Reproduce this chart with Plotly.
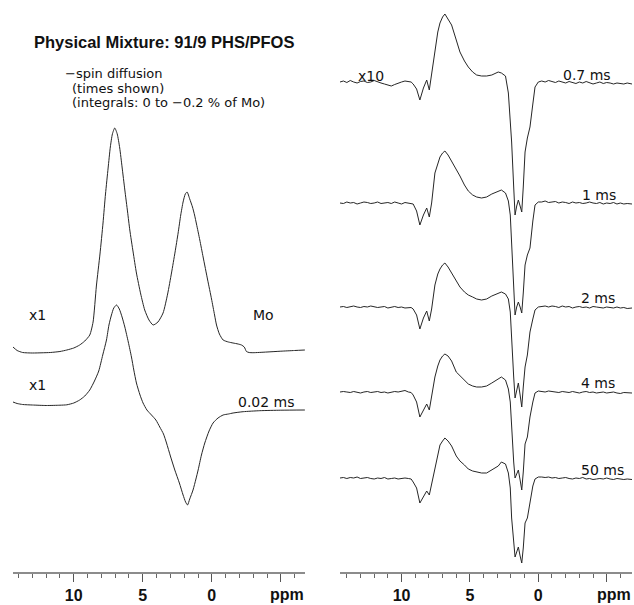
import plotly.graph_objects as go

# ---------------- Left panel data (ppm, intensity relative to trace baseline) ----------------
mo_ppm = [14.4, 14.1, 13.7, 13.0, 12.3, 11.7, 11.0, 10.5, 10.0, 9.57, 9.2, 8.84, 8.6, 8.36, 8.1,
          7.88, 7.7, 7.51, 7.35, 7.2, 7.03, 6.85, 6.67, 6.5, 6.3, 6.1, 5.94, 5.7, 5.46, 5.15,
          4.86, 4.55, 4.25, 3.9, 3.53, 3.2, 2.92, 2.66, 2.44, 2.25, 2.08, 1.92, 1.79, 1.6, 1.4,
          1.25, 1.11, 0.87, 0.63, 0.3, 0.02, -0.2, -0.34, -0.55, -0.82, -1.2, -1.54, -1.9, -2.15,
          -2.35, -2.51, -2.7, -2.99, -4.0, -5.0, -6.0, -6.74]
mo_int = [5, 1.5, -0.5, -1, -0.8, -0.5, 0.5, 2, 4, 7, 11, 17, 30, 66, 98,
          129, 158, 184, 205, 218, 224, 218, 204, 185, 162, 140, 122, 100, 79, 58,
          42, 32, 27, 30, 39, 58, 79, 100, 119, 137, 150, 158, 160, 153, 145,
          137, 128, 112, 95, 72, 53, 37, 27, 18, 12, 10, 9, 8, 7,
          5, 0.5, -0.5, -0.7, 0, 0.8, 1.5, 2]

d002_ppm = [14.4, 14.1, 13.7, 13.0, 12.0, 11.0, 10.5, 10.0, 9.57, 9.2, 8.84, 8.5, 8.19, 7.9,
            7.63, 7.45, 7.27, 7.1, 6.9, 6.7, 6.5, 6.3, 6.05, 5.82, 5.65, 5.46, 5.2, 4.98, 4.7,
            4.37, 4.05, 3.77, 3.5, 3.28, 3.0, 2.68, 2.35, 2.08, 1.9, 1.76, 1.6, 1.36, 1.15, 0.99,
            0.75, 0.51, 0.2, -0.09, -0.45, -0.82, -1.2, -1.54, -2.27, -3.48, -5.0, -6.74]
d002_int = [5, 3.5, 2.5, 2, 1.5, 1.8, 2.2, 4, 7, 11, 17, 26, 36, 52,
            67, 82, 92, 99, 102, 98, 90, 80, 65, 50, 37, 24, 12, 4, -3,
            -8, -13, -20, -27, -36, -49, -63, -76, -88, -95, -98, -92, -83, -72, -63,
            -48, -36, -24, -16, -11, -8, -7, -6, -4.7, -3.7, -3.2, -3]

left_names = ["Mo", "0.02 ms"]
left_offsets = [220, 165]

# ---------------- Right panel data (x10 spectra, common ppm grid) ----------------
ppm_right = [14.5, 14.25, 14.0, 13.75, 13.5, 13.25, 13.0, 12.75, 12.5, 12.25, 12.0, 11.75, 11.5,
             11.25, 11.0, 10.75, 10.5, 10.25, 10.0, 9.75, 9.5,
             9.3, 9.15, 8.9, 8.66, 8.4, 8.16, 7.97, 7.8, 7.56, 7.35, 7.19, 7.0, 6.83, 6.6, 6.34,
             6.0, 5.73, 5.4, 5.12, 4.8, 4.51, 4.15, 3.78, 3.4, 2.93, 2.7, 2.4, 2.19, 2.05, 1.95,
             1.8, 1.7, 1.58, 1.46, 1.33, 1.21, 1.1, 0.97, 0.8, 0.61, 0.4, 0.24, 0.0,
             -0.25, -0.5, -0.75, -1.0, -1.25, -1.5, -1.75, -2.0, -2.25, -2.5, -2.75, -3.0, -3.25,
             -3.5, -3.75, -4.0, -4.25, -4.5, -4.75, -5.0, -5.25, -5.5, -5.75, -6.0, -6.25, -6.5, -6.85]

int_0p7ms = [0, 1, -0.5, 1.5, 0, -1, 0.5, 1, -0.5, 0, 1.5, 0, -1, -2, -3, -4, -2.5, -1, 0, 1, 0.5,
             0, -2, -7, -18, -6, 2, -8, 8, 32, 50, 59, 65, 68, 63, 57, 42, 30, 21, 15, 10, 7, 6, 6,
             7, 10, 9, 6, -11, -35, -60, -105, -133, -124, -118, -124, -130, -105, -70, -56, -45,
             -22, -5, 0,
             1, 0, 1.5, 0.5, -0.5, 1, 0, -1, 0.5, -0.5, -1.5, 0, -1, 0.5, -1, -2, -1, 0, -1.5,
             -0.5, -1, -2, -1, -1.5, -2, -1, -2]
int_1ms = [0, -0.5, 1, 0, 0.5, -1, 0, 1, 0.5, -0.5, 0, 1, -0.5, 0, 0.5, -0.5, 1, 0, -1, 0.5, 0,
           0, -1, -8, -22, -12, -5, -14, 0, 30, 40, 46, 50, 52, 48, 42, 33, 27, 18, 12, 8, 6, 5, 6,
           9, 12, 13, 10, 2, -12, -45, -85, -112, -104, -99, -104, -110, -90, -62, -52, -45,
           -18, -2, 1,
           1, 2, 0.5, 1, 1.5, 0, 1, 0.5, -0.5, 1, 0, 0.5, -0.5, 0, 1, 0, -0.5, 0.5, -1, 0,
           -0.5, 0.5, -1, 0, -1, -0.5, -1]
int_2ms = [0, 0.5, -0.5, 0.5, 1, 0, -0.5, 0.5, 0, 1, 0.5, -0.5, 0, 0.5, -1, 0, 0.5, -0.5, 0, -1, -0.5,
           -0.5, -2, -8, -22, -11, -4, -14, -2, 22, 33, 38, 42, 44, 40, 34, 25, 20, 15, 12, 10, 8, 7,
           8, 11, 14, 15, 13, 8, -5, -35, -70, -91, -84, -76, -88, -100, -80, -60, -48, -25,
           -12, -3, 0,
           0.5, 1, 0, 1, 0.5, -0.5, 1, 0, 0.5, -1, 0, 0.5, -0.5, 0, -1, 0.5, 0, -0.5, -1, 0,
           -0.5, -1, 0, -1, -0.5, -1.5, -1]
int_4ms = [0, 0.5, 0, -0.5, 0.5, 0, -1, 0, 0.5, -0.5, 0, 0.5, -0.5, 0, -1, 0, 0.5, 0, 1, 1.5, 0,
           -0.5, -3, -10, -25, -18, -12, -18, -5, 15, 26, 32, 36, 38, 36, 31, 20, 16, 12, 8, 6, 5,
           5, 6, 9, 13, 15, 12, 3, -10, -40, -70, -86, -82, -78, -88, -98, -80, -52, -45, -25,
           -10, -1, 1,
           0.5, 0, 1, 0.5, 0, -0.5, 0.5, 0, -0.5, 0.5, 0, -1, 0, 0.5, -0.5, 0, -1, -0.5, 0, -1,
           -0.5, 0, -1, -1.5, -0.5, -1, -1]
int_50ms = [0, 0.5, -0.5, 0.5, 0, 1, -0.5, 0, 0.5, -0.5, -1, 0, -0.5, 0.5, -1, -0.5, 0, -1, -0.5, 0, -0.5,
            -1, -4, -10, -25, -18, -13, -17, -6, 11, 25, 33, 37, 40, 37, 32, 22, 17, 13, 9, 7, 6, 5,
            5, 8, 12, 16, 14, 5, -10, -40, -65, -79, -74, -69, -78, -85, -70, -45, -40, -25,
            -8, -1, 1,
            1, 0.5, 1, 0, 0.5, -0.5, 0, 0.5, -0.5, -1, 0, -0.5, 0.5, -1, -0.5, -1.5, -1, -0.5, -1,
            0, -1, -1.5, -0.5, -1, -1.5, -1, -1.5]

right_names = ["0.7 ms", "1 ms", "2 ms", "4 ms", "50 ms"]
right_series = [int_0p7ms, int_1ms, int_2ms, int_4ms, int_50ms]
right_offsets = [490, 369, 265, 180, 94]

tick_vals = [10, 5, 0, -5]
tick_text = ["10", "5", "0", ""]
unit_label = "ppm"

# ---------------- Figure ----------------
W, H = 634, 605
LINE = dict(color="#262626", width=1)
BODY = "DejaVu Sans, Verdana, sans-serif"
BOLD = "Liberation Sans, Arial, sans-serif"

fig = go.Figure()
fig.add_trace(go.Scatter(x=mo_ppm, y=[left_offsets[0] + v for v in mo_int], mode="lines",
                         line=dict(shape="spline", smoothing=0.6, **LINE), name=left_names[0],
                         xaxis="x", yaxis="y"))
fig.add_trace(go.Scatter(x=d002_ppm, y=[left_offsets[1] + v for v in d002_int], mode="lines",
                         line=dict(shape="spline", smoothing=0.6, **LINE), name=left_names[1],
                         xaxis="x", yaxis="y"))
for name, vals, off in zip(right_names, right_series, right_offsets):
    fig.add_trace(go.Scatter(x=ppm_right, y=[off + v for v in vals], mode="lines",
                             line=dict(shape="linear", **LINE), name=name,
                             xaxis="x2", yaxis="y2"))

axis_common = dict(
    showgrid=False, zeroline=False, showline=True, linecolor="#8c8c8c", linewidth=1.5,
    ticks="outside", ticklen=8, tickwidth=1.2, tickcolor="#555555",
    tickvals=tick_vals, ticktext=["<b>%s</b>" % t if t else "" for t in tick_text],
    tickfont=dict(family=BOLD, size=16, color="#111111"),
    ticklabelstandoff=0,
    minor=dict(dtick=1, tick0=0, ticks="outside", ticklen=4, tickcolor="#666666", tickwidth=1),
    fixedrange=True, automargin=False,
)
ydom = [33 / H, 1.0]
fig.update_layout(
    width=W, height=H, margin=dict(l=0, r=0, t=0, b=0),
    paper_bgcolor="white", plot_bgcolor="white", showlegend=False,
    xaxis=dict(domain=[13 / W, 305 / W], range=[14.4, -6.75], anchor="y", **axis_common),
    xaxis2=dict(domain=[340 / W, 632 / W], range=[14.5, -6.85], anchor="y2", **axis_common),
    yaxis=dict(domain=ydom, range=[0, 572], visible=False, fixedrange=True),
    yaxis2=dict(domain=ydom, range=[0, 572], visible=False, fixedrange=True, anchor="x2"),
)


def label(text, xpx, ypx, size=14, anchor="left", family=BODY, bold=False):
    t = "<b>%s</b>" % text if bold else text
    fig.add_annotation(text=t, x=xpx / W, y=1 - ypx / H, xref="paper", yref="paper",
                       xanchor=anchor, yanchor="middle", showarrow=False,
                       font=dict(family=family, size=size, color="#111111"), borderpad=0)


label("Physical Mixture: 91/9 PHS/PFOS", 164, 42, size=16.5, anchor="center", family=BOLD, bold=True)
label("\u2212spin diffusion", 64, 73, size=13)
label("(times shown)", 71, 88, size=13)
label("(integrals: 0 to \u22120.2 % of Mo)", 71, 103, size=13)

label("x1", 28, 315)
label(left_names[0], 252, 315)
label("x1", 28, 385)
label(left_names[1], 237, 402)

label("x10", 357, 76)
label_pos = [(562, 75), (581, 195), (580, 298), (580, 383), (580, 470)]
for name, (lx, ly) in zip(right_names, label_pos):
    label(name, lx, ly)

# unit label sits at the -5 ppm tick position, slightly shifted as in the original
label(unit_label, 287, 594, size=16, anchor="center", family=BOLD, bold=True)
label(unit_label, 614, 594, size=16, anchor="center", family=BOLD, bold=True)

fig.write_html("out.html")
